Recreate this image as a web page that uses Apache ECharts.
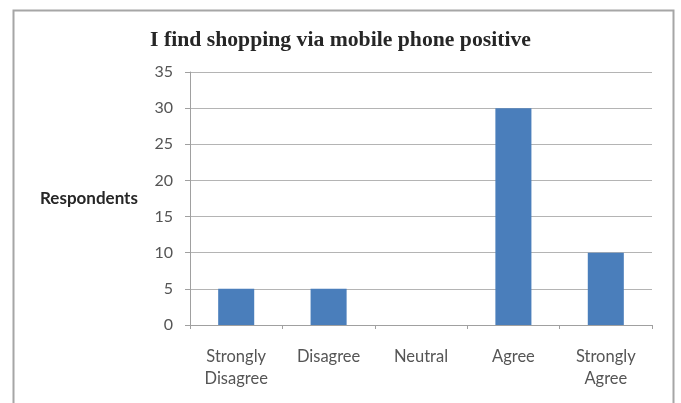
<!DOCTYPE html>
<html><head><meta charset="utf-8">
<script src="https://cdn.jsdelivr.net/npm/echarts@6/dist/echarts.min.js"></script>
<style>html,body{margin:0;padding:0;background:#fff}#c{width:681px;height:403px}</style>
</head><body><div id="c"></div>
<script>
const categories = ['Strongly\nDisagree', 'Disagree', 'Neutral', 'Agree', 'Strongly\nAgree'];
const respondents = [5, 5, 0, 30, 10];
const yTicks = { min: 0, max: 35, interval: 5 };
const titleText = 'I find shopping via mobile phone positive';
const yAxisName = 'Respondents';

const chart = echarts.init(document.getElementById('c'));
chart.setOption({
  animation: false,
  title: {
    text: titleText, left: 'center', top: 24,
    textStyle: { fontFamily: 'Liberation Serif', fontWeight: 'bold', fontSize: 21.7, color: '#262626' }
  },
  graphic: [
    { type: 'rect', shape: { x: 13.5, y: 10.5, width: 660, height: 400 },
      style: { fill: 'none', stroke: '#a6a6a6', lineWidth: 2 } },
    { type: 'text', left: 40, top: 190,
      style: { text: yAxisName, font: 'bold 17px Lato, "Liberation Sans", sans-serif', fill: '#262626' } }
  ],
  grid: { left: 190, right: 29, top: 72, bottom: 78 },
  xAxis: {
    type: 'category', data: categories,
    axisLine: { lineStyle: { color: '#a0a0a0', width: 1 } },
    axisTick: { show: true, alignWithLabel: false, length: 4, lineStyle: { color: '#a0a0a0' } },
    axisLabel: { color: '#555', fontFamily: 'Lato', fontSize: 16.5, lineHeight: 22, margin: 21 }
  },
  yAxis: {
    type: 'value', min: yTicks.min, max: yTicks.max, interval: yTicks.interval,
    axisLine: { show: true, lineStyle: { color: '#a0a0a0' } },
    axisTick: { show: true, length: 5, lineStyle: { color: '#a0a0a0' } },
    splitLine: { lineStyle: { color: '#b4b4b4', width: 1 } },
    axisLabel: { color: '#555', fontFamily: 'Lato', fontSize: 16, margin: 17 }
  },
  series: [{
    type: 'bar', data: respondents, barWidth: '39%',
    itemStyle: { color: '#4a7ebb' }
  }]
});
</script></body></html>
